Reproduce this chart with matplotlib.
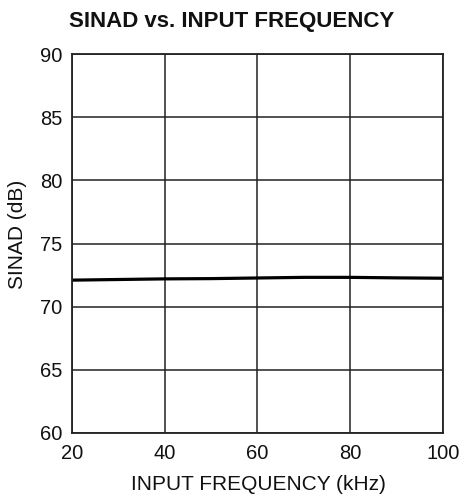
import matplotlib
matplotlib.use("Agg")
import matplotlib.pyplot as plt

plt.rcParams["font.family"] = ["Liberation Sans", "DejaVu Sans"]

# SINAD measured across input frequency
freq_khz = [20, 30, 40, 50, 60, 70, 80, 90, 100]
sinad_db = [72.1, 72.15, 72.2, 72.22, 72.27, 72.32, 72.32, 72.28, 72.25]

x_ticks = [20, 40, 60, 80, 100]
y_ticks = [60, 65, 70, 75, 80, 85, 90]

W, H = 464, 497


def main():
    fig = plt.figure(figsize=(W / 100, H / 100), dpi=100)
    ax = fig.add_axes([72 / W, 1 - 433 / H, (443 - 72) / W, (433 - 54) / H])

    ax.plot(freq_khz, sinad_db, color="black", linewidth=2.3, solid_capstyle="butt")

    ax.set_xlim(20, 100)
    ax.set_ylim(60, 90)
    ax.set_xticks(x_ticks)
    ax.set_yticks(y_ticks)
    ax.grid(True, color="#222222", linewidth=1.1)
    ax.set_axisbelow(True)
    for spine in ax.spines.values():
        spine.set_linewidth(1.3)
        spine.set_color("#222222")
    ax.tick_params(length=0, labelsize=14.5, colors="#111111")
    ax.tick_params(axis="y", pad=7)
    ax.tick_params(axis="x", pad=8)

    fig.text(258 / W, 1 - 485 / H, "INPUT FREQUENCY (kHz)", fontsize=15,
             ha="center", va="center", color="#111111")
    fig.text(18 / W, 1 - 234 / H, "SINAD (dB)", fontsize=15, rotation=90,
             ha="center", va="center", color="#111111")
    fig.text(232 / W, 1 - 22 / H, "SINAD vs. INPUT FREQUENCY", fontsize=16,
             fontweight="bold", ha="center", va="center", color="#111111")

    fig.savefig("out.png", dpi=100)


if __name__ == "__main__":
    main()
